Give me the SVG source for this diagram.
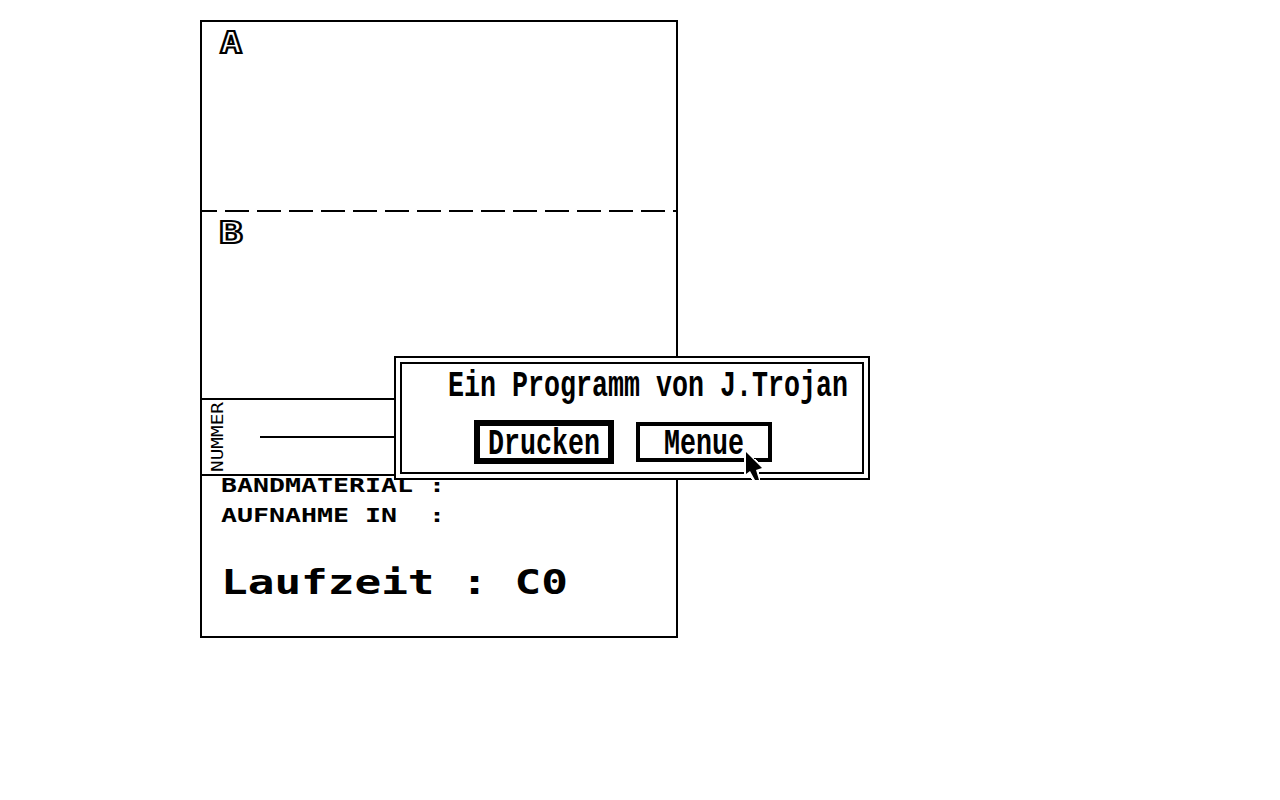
<svg xmlns="http://www.w3.org/2000/svg" width="1280" height="800" viewBox="0 0 1280 800">
<style>
.l{fill:none;stroke:#000;stroke-width:2;shape-rendering:crispEdges}
.m{font-family:"DejaVu Sans Mono","Liberation Mono",monospace;font-weight:700;fill:#000}
.s{font-family:"Liberation Mono","DejaVu Sans Mono",monospace;font-weight:700;fill:#000}
.n{font-family:"DejaVu Sans Mono","Liberation Mono",monospace;font-weight:400;fill:#000}
.ic{font-family:"DejaVu Sans Mono","Liberation Mono",monospace;font-weight:700;fill:#fff;stroke:#000;stroke-width:2;font-size:30px}
</style>
<rect width="1280" height="800" fill="#fff"/>
<g id="form">
<rect class="l" x="201" y="21" width="476" height="616"/>
<line class="l" x1="201" y1="211" x2="677" y2="211" stroke-dasharray="16 8 24 8 24 8 24 8 24 8 24 8 24 8 24 8 24 8 24 8 24 8 24 8 24 8 24 8 24 8 24"/>
<line class="l" x1="201" y1="399" x2="677" y2="399"/>
<line class="l" x1="201" y1="475" x2="677" y2="475"/>
<line class="l" x1="260" y1="437" x2="396" y2="437"/>
</g>
<g id="label-a"><text class="ic" x="220" y="53" textLength="22" lengthAdjust="spacingAndGlyphs">A</text></g>
<g id="label-b"><text class="ic" x="219" y="243" textLength="24" lengthAdjust="spacingAndGlyphs">B</text></g>
<g id="nummer"><text class="n" transform="translate(223 472) rotate(-90)" font-size="16" textLength="70" lengthAdjust="spacingAndGlyphs">NUMMER</text></g>
<g id="fields">
<text class="m" x="221" y="492" font-size="19" textLength="224" lengthAdjust="spacingAndGlyphs" xml:space="preserve">BANDMATERIAL :</text>
<text class="m" x="221" y="522" font-size="19" textLength="224" lengthAdjust="spacingAndGlyphs" xml:space="preserve">AUFNAHME IN  :</text>
<text class="m" x="221" y="594" font-size="33" textLength="347" lengthAdjust="spacingAndGlyphs" xml:space="preserve">Laufzeit : C0</text>
</g>
<g id="dialog">
<rect x="395" y="357" width="474" height="122" fill="#fff" stroke="#000" stroke-width="2" shape-rendering="crispEdges"/>
<rect class="l" x="401" y="363" width="462" height="110"/>
<text class="s" x="448" y="396" font-size="36" textLength="400" lengthAdjust="spacingAndGlyphs">Ein Programm von J.Trojan</text>
</g>
<g id="btn-drucken">
<rect x="477" y="423" width="134" height="38" fill="#fff" stroke="#000" stroke-width="6" shape-rendering="crispEdges"/>
<text class="s" x="488" y="454" font-size="36" textLength="112" lengthAdjust="spacingAndGlyphs">Drucken</text>
</g>
<g id="btn-menue">
<rect x="638" y="424" width="132" height="36" fill="#fff" stroke="#000" stroke-width="4" shape-rendering="crispEdges"/>
<text class="s" x="664" y="454" font-size="36" textLength="80" lengthAdjust="spacingAndGlyphs">Menue</text>
</g>
<g id="cursor">
<polygon points="744,449 744,477 750,475 753,482 761,482 759,472 765,471 765,468" fill="#fff" shape-rendering="crispEdges"/>
<polygon points="746,452 746,474 750,471 755,480 759,480 756,470 762,468" fill="#000"/>
</g>
</svg>
